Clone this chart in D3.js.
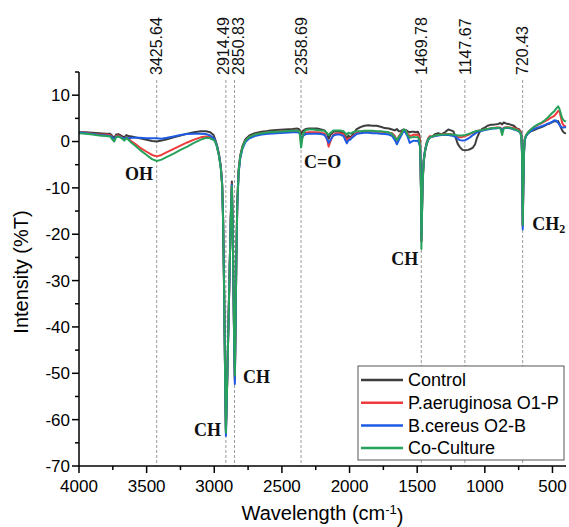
<!DOCTYPE html>
<html>
<head>
<meta charset="utf-8">
<script src="https://cdn.jsdelivr.net/npm/d3@7"></script>
<style>
  body { margin: 0; background: #fff; }
  text { font-family: "Liberation Sans", Arial, sans-serif; }
  .band { font-family: "Liberation Serif", "Times New Roman", serif; font-weight: bold; }
</style>
</head>
<body>
<div id="chart"></div>
<script>
// FTIR spectra, values (wavenumber in cm-1, intensity in %T)
var wavenumbers = [
  4000, 3950, 3900, 3850, 3800, 3770, 3755, 3740, 3725, 3710, 3690, 3665, 3650, 3635, 3610, 3580, 3550, 3500, 3460, 3425, 3390, 3350, 3300, 3250, 3200, 3150, 3100, 3060, 3030, 3005,
  2995, 2980, 2965, 2952, 2942, 2935, 2929, 2923, 2918, 2914, 2905, 2896, 2887, 2878, 2870, 2864, 2858, 2852, 2848, 2843, 2837, 2830, 2820, 2808, 2792, 2770, 2740, 2700, 2650, 2600, 2540, 2480, 2420, 2385, 2370,
  2358, 2345, 2325, 2300, 2270, 2240, 2210, 2185, 2165, 2155, 2140, 2120, 2095, 2070, 2045, 2030, 2020, 2008, 1995, 1975, 1950, 1920, 1890, 1860, 1830, 1800, 1770, 1740, 1710, 1685, 1665, 1650, 1635, 1620, 1600, 1585, 1570, 1555, 1540, 1525, 1510, 1495, 1485,
  1478, 1472, 1469, 1465, 1460, 1452, 1442, 1430, 1418, 1405, 1390, 1370, 1345, 1320, 1295, 1270, 1250, 1232, 1215, 1200, 1185, 1165, 1145, 1125, 1105, 1088, 1072, 1058, 1040, 1020, 1000, 980, 960, 940, 920, 900, 885, 872, 860, 845, 825, 805, 785, 765, 750, 738, 730, 725, 720, 716, 711, 705, 695, 680, 660, 640, 620, 600, 580, 560, 540, 520, 500, 485, 470, 458, 448, 438, 428, 418, 408, 400
];

var control = [
  2.0, 2.0, 1.9, 1.8, 1.7, 1.7, 1.2, 0.8, 1.5, 1.6, 1.3, 0.9, 1.4, 1.2, 1.1, 0.9, 0.7, 0.4, 0.1, 0.0, 0.2, 0.5, 0.9, 1.3, 1.7, 2.0, 2.2, 2.2, 2.0, 1.4,
  0.6, -0.8, -2.8, -5.3, -9, -16, -28, -42, -55, -62.2, -52, -40, -28, -16, -8.6, -18, -32, -45, -51, -40, -25, -13, -6, -3, -1, 0.5, 1.3, 1.8, 2.1, 2.3, 2.5, 2.6, 2.7, 2.8, 2.6,
  1.6, 2.3, 2.7, 2.8, 2.8, 2.8, 2.6, 2.4, 1.6, 0.6, 1.5, 2.1, 2.2, 2.1, 1.8, 1.2, 0.6, 1.3, 0.8, 1.6, 2.6, 3.1, 3.4, 3.5, 3.4, 3.4, 3.2, 2.9, 2.8, 2.6, 2.4, 2.7, 2.2, 2.3, 2.6, 2.5, 2.2, 2.0, 2.1, 2.1, 2.0, 2.1, 1.5,
  0.0, -10, -21.5, -16, -9, -4.5, -2.2, -0.6, 0.4, 0.9, 1.0, 1.6, 1.8, 1.6, 2.0, 2.6, 2.4, 2.2, 0.8, -0.5, -1.2, -1.8, -1.9, -1.8, -1.6, -1.3, -0.6, 0.8, 2.0, 2.7, 3.0, 3.4, 3.6, 3.6, 3.7, 3.8, 4.0, 3.7, 4.1, 3.9, 3.8, 3.6, 3.4, 2.8, 2.7, 2.3, 1.8, -2, -18.0, -10, -2, 0.5, 1.2, 1.8, 2.2, 2.4, 2.7, 2.9, 3.1, 3.4, 3.7, 3.9, 4.2, 4.4, 4.3, 4.4, 3.8, 3.0, 2.4, 2.0, 1.8, 1.7
];

var aeruginosa = [
  2.0, 1.9, 1.7, 1.5, 1.5, 1.4, 0.8, 0.2, 1.2, 1.3, 1.0, 0.4, 1.0, 0.6, 0.0, -0.6, -1.3, -2.2, -2.9, -3.2, -2.9, -2.3, -1.6, -0.9, -0.2, 0.4, 0.9, 1.1, 1.0, 0.5,
  0.3, -1, -3, -5.5, -9.2, -16.5, -28.5, -42.5, -55.5, -62.6, -52.5, -40.5, -28.5, -16.5, -9.2, -18.5, -32.5, -45.5, -51.5, -40.5, -25.5, -13.5, -6.5, -3.3, -1.3, 0.2, 1.0, 1.5, 1.8, 2.0, 2.1, 2.2, 2.3, 2.3, 2.2,
  -0.2, 1.4, 1.9, 2.0, 2.0, 2.0, 1.9, 1.7, 0.3, -1.1, 0.2, 1.5, 1.8, 1.8, 1.6, 0.8, 0.0, 0.7, 0.6, 1.2, 1.8, 2.1, 2.2, 2.2, 2.2, 2.1, 2.1, 2.0, 1.9, 1.8, 1.2, 0.0, 1.2, 1.8, 2.5, 2.3, 1.7, 1.2, 1.3, 1.5, 1.4, 1.5, 1.0,
  -0.5, -10, -21.5, -16, -8.5, -4, -1.8, -0.2, 0.8, 1.2, 1.0, 1.3, 1.4, 1.5, 1.6, 1.6, 1.6, 1.5, 1.3, 1.0, 0.9, 1.0, 1.2, 1.4, 1.7, 1.9, 2.1, 2.3, 2.4, 2.5, 2.6, 2.7, 2.8, 2.9, 3.0, 3.0, 3.0, 2.4, 3.0, 3.1, 3.1, 3.0, 2.9, 2.7, 2.5, 2.2, 1.6, -2.5, -18.2, -10.5, -2.5, 0.5, 1.4, 2.0, 2.6, 3.0, 3.4, 3.7, 4.0, 4.3, 4.6, 5.0, 5.3, 5.6, 6.1, 6.6, 6.5, 5.3, 4.0, 3.5, 3.3, 3.2
];

var cereus = [
  2.0, 1.8, 1.6, 1.4, 1.3, 1.2, 0.9, 0.6, 1.0, 1.1, 0.9, 0.6, 0.9, 0.7, 0.8, 0.8, 0.8, 0.7, 0.7, 0.7, 0.6, 0.8, 1.1, 1.4, 1.6, 1.7, 1.7, 1.6, 1.3, 0.7,
  0.3, -1, -3, -5.5, -9.2, -16.5, -28.5, -43, -56, -63.5, -52.5, -40.5, -28.5, -16.5, -9.3, -18.5, -32.5, -46, -52.3, -41, -26, -14, -6.8, -3.6, -1.6, -0.1, 0.7, 1.2, 1.5, 1.7, 1.8, 1.9, 2.0, 2.0, 1.9,
  0.5, 1.2, 1.6, 1.7, 1.7, 1.7, 1.6, 1.4, 0.5, -0.3, 0.4, 1.3, 1.5, 1.5, 1.2, 0.2, -0.4, 0.3, 0.4, 1.0, 1.6, 1.8, 1.9, 1.9, 1.8, 1.8, 1.7, 1.6, 1.5, 1.2, 0.3, -0.6, 0.3, 1.2, 2.3, 1.9, 1.0, -0.3, 0.0, 0.2, 0.1, 0.2, -0.5,
  -1.2, -10, -21, -16, -8.5, -4, -1.9, -0.4, 0.5, 0.9, 1.0, 1.2, 1.3, 1.4, 1.4, 1.4, 1.3, 1.2, 1.0, 0.6, 0.3, 0.2, 0.3, 0.6, 1.0, 1.4, 1.7, 2.0, 2.2, 2.3, 2.5, 2.6, 2.7, 2.8, 2.8, 2.9, 2.9, 2.5, 2.9, 2.9, 2.9, 2.8, 2.6, 2.4, 2.2, 1.9, 1.2, -3, -19.0, -11, -3, 0.3, 1.2, 1.8, 2.3, 2.6, 2.9, 3.1, 3.3, 3.5, 3.8, 4.0, 4.3, 4.6, 4.5, 4.0, 3.6, 3.2, 3.0, 3.0, 3.1, 3.0
];

var coCulture = [
  1.8, 1.7, 1.5, 1.3, 1.2, 1.1, 0.5, 0.0, 1.0, 1.1, 0.8, 0.2, 0.8, 0.4, -0.3, -1.0, -1.8, -2.9, -3.8, -4.2, -3.9, -3.3, -2.6, -1.8, -1.1, -0.3, 0.4, 0.8, 0.7, 0.3,
  0.1, -1.2, -3.2, -5.7, -9.5, -17, -29, -43, -55.5, -62.8, -52.5, -40.5, -28.5, -16.5, -9.6, -18.5, -32, -44.5, -50.5, -40, -25.5, -13.5, -6.5, -3.3, -1.3, 0.2, 1.0, 1.5, 1.8, 2.0, 2.1, 2.2, 2.3, 2.3, 2.2,
  -1.3, 1.5, 2.5, 2.6, 2.6, 2.5, 2.4, 2.3, 1.8, 1.4, 1.9, 2.4, 2.4, 2.4, 2.2, 1.8, 1.5, 1.9, 1.7, 2.0, 2.2, 2.2, 2.3, 2.3, 2.3, 2.2, 2.2, 2.1, 2.0, 1.6, 0.9, 0.3, 1.0, 1.6, 2.6, 2.4, 1.4, 0.8, 0.9, 1.0, 0.9, 1.0, 0.3,
  -1.5, -11, -23.2, -17, -9, -4.3, -2.0, -0.4, 0.6, 0.9, 1.1, 1.3, 1.4, 1.5, 1.5, 1.6, 1.5, 1.5, 1.4, 1.3, 1.3, 1.3, 1.4, 1.6, 1.8, 2.0, 2.2, 2.3, 2.4, 2.5, 2.6, 2.7, 2.8, 2.9, 2.9, 3.0, 2.8, 1.4, 2.8, 3.0, 3.0, 2.9, 2.7, 2.5, 2.3, 1.9, 1.0, -2.5, -18.0, -11, -2.5, 0.4, 1.4, 2.0, 2.6, 3.1, 3.5, 3.8, 4.1, 4.5, 5.0, 5.6, 6.2, 6.6, 7.2, 7.6, 7.0, 6.0, 5.0, 4.6, 4.4, 4.3
];

var seriesNames = ["Control", "P.aeruginosa O1-P", "B.cereus O2-B", "Co-Culture"];
var seriesValues = [control, aeruginosa, cereus, coCulture];
var seriesColors = ["#3d3d3d", "#ef3b3b", "#1d5be4", "#27a25c"];

// marked peak positions (dashed lines + labels on top)
var peaks = ["3425.64", "2914.49", "2850.83", "2358.69", "1469.78", "1147.67", "720.43"];

// band assignments, anchored in data units
var bandLabels = [
  {text: "OH", wn: 3660, val: -8.3},
  {text: "CH", wn: 3149, val: -63.6},
  {text: "CH", wn: 2787, val: -52.0},
  {text: "C=O", wn: 2336, val: -5.7},
  {text: "CH", wn: 1692, val: -26.6},
  {text: "CH", sub: "2", wn: 649, val: -19.0}
];

var xTicks = [4000, 3500, 3000, 2500, 2000, 1500, 1000, 500];
var yTicks = [10, 0, -10, -20, -30, -40, -50, -60, -70];

var width = 569, height = 527;
var margin = {top: 72, right: 3, bottom: 61, left: 79};

var svg = d3.select("#chart").append("svg")
    .attr("width", width)
    .attr("height", height);

var x = d3.scaleLinear().domain([4000, 400]).range([margin.left, width - margin.right]);
var y = d3.scaleLinear().domain([-70, 15]).range([height - margin.bottom, margin.top]);

var plotBottom = height - margin.bottom;

// dashed peak lines
svg.selectAll(".peakline")
    .data(peaks)
    .enter().append("line")
    .attr("x1", function(d){ return x(+d); })
    .attr("x2", function(d){ return x(+d); })
    .attr("y1", 80)
    .attr("y2", plotBottom)
    .attr("stroke", "#9a9a9a")
    .attr("stroke-width", 1)
    .attr("stroke-dasharray", "3,2");

// label x positions, pushed apart where two peaks sit too close
var labelX = peaks.map(function(d){ return x(+d); });
for (var i = 1; i < labelX.length; i++) {
    var gap = labelX[i] - labelX[i-1];
    if (gap < 15) {
        labelX[i-1] -= (15 - gap) / 2 - 1;
        labelX[i] += (15 - gap) / 2 + 1;
    }
}

svg.selectAll(".peaklabel")
    .data(peaks)
    .enter().append("text")
    .attr("transform", function(d, i){ return "translate(" + labelX[i] + ",75) rotate(-90)"; })
    .attr("dy", "0.36em")
    .attr("text-anchor", "start")
    .style("font-size", "16px")
    .attr("fill", "#111")
    .text(function(d){ return d; });

// spectra
var line = d3.line()
    .x(function(d){ return x(d[0]); })
    .y(function(d){ return y(d[1]); });

seriesValues.forEach(function(vals, i){
    var pts = wavenumbers.map(function(w, j){ return [w, vals[j]]; });
    svg.append("path")
        .datum(pts)
        .attr("fill", "none")
        .attr("stroke", seriesColors[i])
        .attr("stroke-width", 2)
        .attr("stroke-linejoin", "round")
        .attr("d", line);
});

// axes
var xAxis = svg.append("g")
    .attr("transform", "translate(0," + plotBottom + ")");
xAxis.append("line")
    .attr("x1", x(4000)).attr("x2", x(400))
    .attr("stroke", "#000").attr("stroke-width", 1.5);
var xMinor = d3.range(4000, 399, -250);
xAxis.selectAll(".xt")
    .data(xMinor)
    .enter().append("line")
    .attr("x1", function(d){ return x(d); })
    .attr("x2", function(d){ return x(d); })
    .attr("y1", 0)
    .attr("y2", function(d){ return d % 500 === 0 ? 7 : 4; })
    .attr("stroke", "#000").attr("stroke-width", 1.5);
xAxis.selectAll(".xl")
    .data(xTicks)
    .enter().append("text")
    .attr("x", function(d){ return x(d); })
    .attr("y", 26)
    .attr("text-anchor", "middle")
    .style("font-size", "17px")
    .text(function(d){ return d; });

var yAxis = svg.append("g")
    .attr("transform", "translate(" + margin.left + ",0)");
yAxis.append("line")
    .attr("y1", y(-70)).attr("y2", y(15))
    .attr("stroke", "#000").attr("stroke-width", 1.5);
var yMinor = d3.range(-70, 16, 5);
yAxis.selectAll(".yt")
    .data(yMinor)
    .enter().append("line")
    .attr("y1", function(d){ return y(d); })
    .attr("y2", function(d){ return y(d); })
    .attr("x1", 0)
    .attr("x2", function(d){ return d % 10 === 0 ? -7 : -4; })
    .attr("stroke", "#000").attr("stroke-width", 1.5);
yAxis.selectAll(".yl")
    .data(yTicks)
    .enter().append("text")
    .attr("x", -9)
    .attr("y", function(d){ return y(d); })
    .attr("dy", "0.35em")
    .attr("text-anchor", "end")
    .style("font-size", "17px")
    .text(function(d){ return d; });

// axis titles
var xTitle = svg.append("text")
    .attr("x", (margin.left + width - margin.right) / 2)
    .attr("y", 520)
    .attr("text-anchor", "middle")
    .style("font-size", "20px");
xTitle.append("tspan").text("Wavelength (cm");
xTitle.append("tspan").attr("dy", "-0.45em").style("font-size", "13px").text("-1");
xTitle.append("tspan").attr("dy", "0.45em").text(")");

svg.append("text")
    .attr("transform", "translate(28," + ((margin.top + plotBottom) / 2 + 3) + ") rotate(-90)")
    .attr("text-anchor", "middle")
    .style("font-size", "20px")
    .text("Intensity (%T)");

// band labels
bandLabels.forEach(function(b){
    var t = svg.append("text")
        .attr("class", "band")
        .attr("x", x(b.wn))
        .attr("y", y(b.val))
        .style("font-size", "18px")
        .attr("fill", "#111")
        .text(b.text);
    if (b.sub) {
        t.append("tspan").attr("dy", "0.3em").style("font-size", "12px").text(b.sub);
    }
});

// legend
var legend = svg.append("g").attr("transform", "translate(358,366)");
legend.append("rect")
    .attr("width", 206)
    .attr("height", 94)
    .attr("fill", "#fff")
    .attr("stroke", "#555")
    .attr("stroke-width", 1);
var items = legend.selectAll(".item")
    .data(seriesNames)
    .enter().append("g")
    .attr("transform", function(d, i){ return "translate(0," + (14 + i * 22.7) + ")"; });
items.append("line")
    .attr("x1", 3).attr("x2", 45)
    .attr("stroke", function(d, i){ return seriesColors[i]; })
    .attr("stroke-width", 2.5);
items.append("text")
    .attr("x", 50)
    .attr("dy", "0.35em")
    .style("font-size", "18px")
    .text(function(d){ return d; });
</script>
</body>
</html>
